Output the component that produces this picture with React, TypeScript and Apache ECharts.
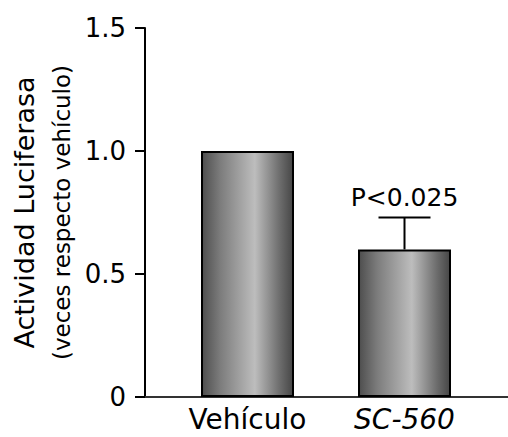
import React, { useEffect, useRef } from "react";
import * as echarts from "echarts";

const categories = ["Vehículo", "SC-560"];
const values = [1.0, 0.6];
const errorTop: (number | null)[] = [null, 0.73];
const annotations = ["", "P<0.025"];
const yMin = 0;
const yMax = 1.5;
const yInterval = 0.5;

const FONT = "'DejaVu Sans', sans-serif";

export default function App() {
  const ref = useRef<HTMLDivElement>(null);
  useEffect(() => {
    if (!ref.current) return;
    const chart = echarts.init(ref.current, undefined, { renderer: "svg" });
    const errItems = categories
      .map((c, i) =>
        errorTop[i] != null
          ? { value: [i, errorTop[i] as number, values[i]], label: annotations[i] }
          : null
      )
      .filter((d) => d !== null) as { value: number[]; label: string }[];

    const gradient = new echarts.graphic.LinearGradient(0, 0, 1, 0, [
      { offset: 0, color: "#4e4e4e" },
      { offset: 0.2, color: "#7c7c7c" },
      { offset: 0.58, color: "#bdbdbd" },
      { offset: 0.85, color: "#6e6e6e" },
      { offset: 1, color: "#464646" },
    ]);

    chart.setOption({
      animation: false,
      backgroundColor: "#ffffff",
      grid: { left: 145, right: 0, top: 28, bottom: 40, containLabel: false },
      xAxis: {
        type: "value",
        min: -0.6529,
        max: 1.6592,
        axisLine: { show: true, onZero: false, lineStyle: { color: "#333", width: 2 } },
        axisTick: { show: false },
        splitLine: { show: false },
        axisLabel: {
          customValues: categories.map((_, i) => i),
          margin: 7,
          formatter: (v: number) => {
            const i = Math.round(v);
            return i === 1 ? `{it|${categories[i]}}` : `{n|${categories[i]}}`;
          },
          rich: {
            n: { fontFamily: FONT, fontSize: 28, color: "#000", lineHeight: 30 },
            it: { fontFamily: FONT, fontSize: 28, color: "#000", fontStyle: "italic", lineHeight: 30 },
          },
        },
      },
      yAxis: {
        type: "value",
        min: yMin,
        max: yMax,
        interval: yInterval,
        axisLine: { show: true, onZero: false, lineStyle: { color: "#000", width: 2 } },
        axisTick: { show: true, inside: false, length: 10, lineStyle: { color: "#000", width: 2 } },
        splitLine: { show: false },
        axisLabel: {
          margin: 19,
          fontFamily: FONT,
          fontSize: 26,
          color: "#000",
          formatter: (v: number) => (v === 0 ? "0" : v.toFixed(1)),
        },
        name: "{a|Actividad Luciferasa}\n{b|(veces respecto vehículo)}",
        nameLocation: "middle",
        nameRotate: 90,
        nameGap: 62,
        nameTextStyle: {
          rich: {
            a: { fontFamily: FONT, fontSize: 27, color: "#000", lineHeight: 38 },
            b: { fontFamily: FONT, fontSize: 23, color: "#000", lineHeight: 38 },
          },
        },
      },
      series: [
        {
          type: "bar",
          data: values.map((v, i) => [i, v]),
          barWidth: 93,
          itemStyle: { color: gradient, borderColor: "#000", borderWidth: 2 },
        },
        {
          type: "custom",
          data: errItems.map((d) => d.value),
          renderItem: (params: any, api: any) => {
            const x = api.value(0);
            const top = api.coord([x, api.value(1)]);
            const base = api.coord([x, api.value(2)]);
            const item = errItems[params.dataIndex];
            return {
              type: "group",
              children: [
                {
                  type: "line",
                  shape: { x1: top[0], y1: base[1], x2: top[0], y2: top[1] },
                  style: { stroke: "#000", lineWidth: 2 },
                },
                {
                  type: "line",
                  shape: { x1: top[0] - 26, y1: top[1], x2: top[0] + 26, y2: top[1] },
                  style: { stroke: "#000", lineWidth: 2 },
                },
                {
                  type: "text",
                  x: top[0],
                  y: top[1] - 7,
                  style: {
                    text: item.label,
                    fontFamily: FONT,
                    fontSize: 25,
                    fill: "#000",
                    align: "center",
                    verticalAlign: "bottom",
                  },
                },
              ],
            };
          },
          z: 3,
        },
      ],
    });
    return () => chart.dispose();
  }, []);
  return (
    <div
      ref={ref}
      style={{ position: "fixed", left: 0, top: 0, width: 508, height: 437 }}
    />
  );
}
